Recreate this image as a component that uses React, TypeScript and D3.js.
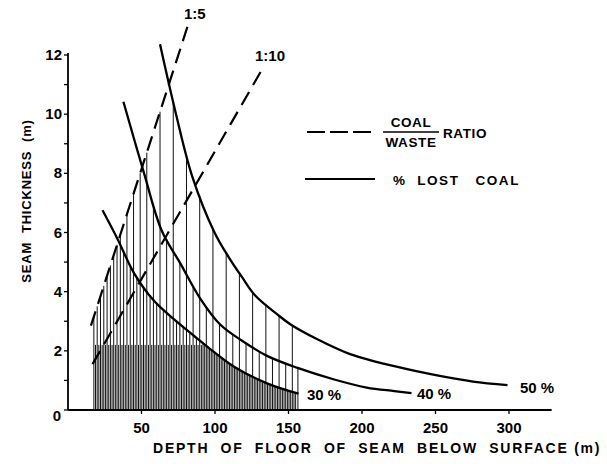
import React from "react";
import { scaleLinear, line, curveCatmullRom, bisector, range } from "d3";

// depth of floor (m), seam thickness (m)
const lost30: [number, number][] = [
  [23.5, 6.75], [34, 5.75], [45, 4.62], [58.5, 3.69], [72, 3.07],
  [85.6, 2.51], [97, 2.05], [112.7, 1.47], [135.4, 0.9], [156.8, 0.55],
];
const lost40: [number, number][] = [
  [37.7, 10.42], [51.8, 7.99], [63.7, 6.07], [76.6, 4.94], [90.2, 3.75],
  [103.7, 2.88], [118.4, 2.34], [135.4, 1.83], [155.7, 1.43], [180.5, 1.04],
  [203.2, 0.76], [222, 0.64], [233.7, 0.57],
];
const lost50: [number, number][] = [
  [62.6, 12.36], [73, 10.1], [84.5, 7.9], [99.5, 6.02], [109.4, 5.16],
  [118.4, 4.49], [127.5, 3.86], [142.2, 3.24], [151.2, 2.9], [169.3, 2.4],
  [191.9, 1.89], [222, 1.48], [252.9, 1.15], [275.5, 0.96], [299, 0.84],
];
const ratio5: [number, number][] = [[15.6, 2.85], [82.2, 13.1]];
const ratio10: [number, number][] = [[16.7, 1.55], [133, 11.6]];

const xTicks = [50, 100, 150, 200, 250, 300];
const yTicks = [2, 4, 6, 8, 10, 12];
const yMinor = range(0, 13, 1);

// hatching: vertical lines under the curves
const hatchFrom = 17.6;
const hatchStep = 2.25;
const hatchTo = 156.4;
const denseTop = 2.2;

const font = "'Liberation Sans', Arial, sans-serif";

function valueAt(pts: [number, number][], d: number) {
  if (d < pts[0][0] || d > pts[pts.length - 1][0]) return Infinity;
  const i = Math.max(1, bisector((p: [number, number]) => p[0]).left(pts, d));
  const [d0, t0] = pts[i - 1];
  const [d1, t1] = pts[i];
  return t0 + ((d - d0) / (d1 - d0)) * (t1 - t0);
}

export default function App() {
  const x = scaleLinear().domain([0, 300]).range([68, 509]);
  const y = scaleLinear().domain([0, 12]).range([410, 55]);
  const r5 = scaleLinear().domain([ratio5[0][0], ratio5[1][0]]).range([ratio5[0][1], ratio5[1][1]]);

  const path = line<[number, number]>()
    .x((p) => x(p[0]))
    .y((p) => y(p[1]))
    .curve(curveCatmullRom.alpha(0.5));

  // hatch lines
  const n = Math.floor((hatchTo - hatchFrom) / hatchStep);
  const hatch = range(0, n + 1).map((i) => {
    const d = hatchFrom + i * hatchStep;
    let top: number;
    if (i % 4 === 0) {
      top = Math.min(r5(d), valueAt(lost50, d));
    } else if (i % 2 === 0) {
      top = Math.min(r5(d), valueAt(lost40, d));
    } else {
      top = Math.min(r5(d), valueAt(lost30, d));
    }
    return { d, top };
  });
  hatch.push({ d: hatchTo, top: valueAt(lost40, hatchTo) });
  const dense = range(0, n).map((i) => {
    const d = hatchFrom + i * hatchStep + hatchStep / 2;
    return { d, top: Math.min(denseTop, r5(d), valueAt(lost30, d)) };
  });

  const pre = { whiteSpace: "pre" } as React.CSSProperties;

  return (
    <svg width={607} height={464} style={{ position: "absolute", left: 0, top: 0, background: "#fff" }}>
      <g stroke="#111" strokeWidth={1}>
        {hatch.map(({ d, top }) => (
          <line key={`h-${d}`} x1={x(d)} x2={x(d)} y1={y(0)} y2={y(top)} />
        ))}
        {dense.map(({ d, top }) => (
          <line key={`dn-${d}`} x1={x(d)} x2={x(d)} y1={y(0)} y2={y(top)} />
        ))}
      </g>

      {/* axes */}
      <g stroke="#000" strokeWidth={1.8} fill="none">
        <line x1={x(0)} x2={x(329)} y1={y(0)} y2={y(0)} />
        <line x1={x(0)} x2={x(0)} y1={y(0)} y2={y(12) - 2} />
        {xTicks.map((t) => (
          <line key={`xt-${t}`} x1={x(t)} x2={x(t)} y1={y(0)} y2={y(0) + 4} strokeWidth={1.3} />
        ))}
        {yMinor.map((t) => (
          <line key={`yt-${t}`} x1={x(0) - 4} x2={x(0)} y1={y(t)} y2={y(t)} strokeWidth={1.3} />
        ))}
      </g>
      <g fontFamily={font} fontWeight="bold" fontSize={15} fill="#000">
        {xTicks.map((t) => (
          <text key={`xl-${t}`} x={x(t)} y={433} textAnchor="middle">{t}</text>
        ))}
        {yTicks.map((t) => (
          <text key={`yl-${t}`} x={62} y={y(t) + 5} textAnchor="end">{t}</text>
        ))}
        <text x={61} y={421} textAnchor="end">0</text>
      </g>

      {/* ratio lines */}
      <g stroke="#000" strokeWidth={2.2} fill="none" strokeDasharray="15 8">
        <path d={path(ratio5) ?? ""} />
        <path d={path(ratio10) ?? ""} />
      </g>
      {/* lost coal curves */}
      <g stroke="#000" strokeWidth={2.3} fill="none">
        <path d={path(lost30) ?? ""} />
        <path d={path(lost40) ?? ""} />
        <path d={path(lost50) ?? ""} />
      </g>

      <g fontFamily={font} fontWeight="bold" fontSize={15} fill="#000">
        <text x={307} y={400}>30 %</text>
        <text x={417} y={399}>40 %</text>
        <text x={520} y={393}>50 %</text>
        <text x={255} y={61}>1:10</text>
        <text x={184} y={19}>1:5</text>
      </g>

      {/* legend */}
      <line x1={307} x2={371} y1={132} y2={132} stroke="#000" strokeWidth={2} strokeDasharray="18 5" />
      <line x1={305} x2={375} y1={179} y2={179} stroke="#000" strokeWidth={2} />
      <g fontFamily={font} fontWeight="bold" fontSize={13.5} fill="#000" letterSpacing={0.6}>
        <text x={411} y={127} textAnchor="middle">COAL</text>
        <text x={411} y={147} textAnchor="middle">WASTE</text>
        <text x={443} y={138}>RATIO</text>
        <text x={393} y={185} style={pre} textLength={126} lengthAdjust="spacing">%  LOST   COAL</text>
      </g>
      <line x1={383} x2={439} y1={132} y2={132} stroke="#000" strokeWidth={1.5} />

      {/* axis titles */}
      <g fontFamily={font} fontWeight="bold" fontSize={14} fill="#000" letterSpacing={1.5}>
        <text x={153} y={453} style={pre} textLength={448} lengthAdjust="spacing">
          {"DEPTH  OF  FLOOR  OF  SEAM  BELOW  SURFACE (m)"}
        </text>
      </g>
      <text
        transform="translate(31,201) rotate(-90)"
        textAnchor="middle"
        style={pre}
        fontFamily={font}
        fontWeight="bold"
        fontSize={13}
        letterSpacing={0.8}
      >
        {"SEAM  THICKNESS  (m)"}
      </text>
    </svg>
  );
}
